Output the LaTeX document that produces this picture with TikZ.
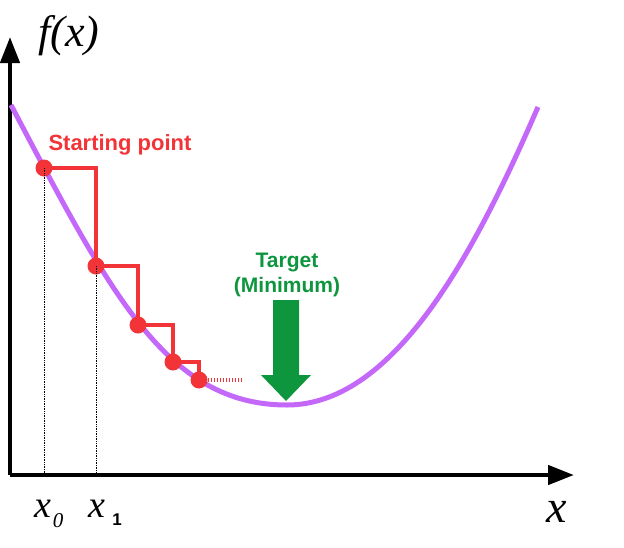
\documentclass[tikz,border=0pt]{standalone}
\usepackage{fontspec}
\setmainfont{Liberation Serif}
\newfontfamily\labelfont{Liberation Sans}
\usepackage{tikz}
\usetikzlibrary{arrows.meta}
\definecolor{curvepurple}{RGB}{196,104,250}
\definecolor{stepred}{RGB}{242,52,56}
\definecolor{targetgreen}{RGB}{14,150,62}
\tikzset{
    axis/.style={line width=4.5pt,-{Triangle[length=26pt,width=19pt]}},
    curve/.style={curvepurple,line width=5pt},
    stepline/.style={stepred,line width=4pt},
    dot/.style={circle,fill=stepred,minimum size=17pt,inner sep=0pt},
    guide/.style={densely dotted,line width=0.7pt},
    redtext/.style={stepred,font=\labelfont\bfseries\fontsize{22}{24}\selectfont},
    greentext/.style={targetgreen,font=\labelfont\bfseries\fontsize{21}{25}\selectfont,align=center}
}

\begin{document}
\begin{tikzpicture}[x=1pt,y=-1pt]
\useasboundingbox (0,0) rectangle (624,547);

% Trục toạ độ
\coordinate (O) at (10,475);
\coordinate (ytip) at (10,37);
\coordinate (xtip) at (574,475);
\draw[axis] (O) -- (ytip);
\draw[axis] (O) -- (xtip);

% Hàm f(x)
\coordinate (cstart) at (11,105);
\coordinate (cmin) at (287,405);
\coordinate (cend) at (538,107);
\draw[curve] (cstart) .. controls (111,295) and (167,405) .. (cmin)
    .. controls (397,405) and (478,245) .. (cend);

% Các bước giảm dần
\node[dot] (P0) at (44,168) {};
\node[dot] (P1) at (96,266) {};
\node[dot] (P2) at (138,325) {};
\node[dot] (P3) at (173,362) {};
\node[dot] (P4) at (199,380) {};
\draw[stepline] (P0.center) -| (P1.center) (P1.center) -| (P2.center)
    (P2.center) -| (P3.center) (P3.center) -| (P4.center);
\coordinate (tail) at (243,380);
\draw[stepred,line width=3.5pt,dash pattern=on 1.5pt off 1.5pt] (P4.east) -- (tail);

% Đường gióng xuống trục x
\coordinate (X0) at (44,475);
\coordinate (X1) at (96,475);
\draw[guide] (P0.center) -- (X0);
\draw[guide] (P1.center) -- (X1);

% Mũi tên đích
\fill[targetgreen] (273,300) -- (299,300) -- (299,375) -- (311,375) -- (286,401)
    -- (261,375) -- (273,375) -- cycle;

% Chú thích
\node[redtext] (start) at (120,145) {Starting point};
\node[greentext] (target) at (287,275) {Target\\(Minimum)};
\node[font=\itshape\fontsize{44}{46}\selectfont] (fx) at (69,36) {f(x)};
\node[font=\itshape\fontsize{46}{48}\selectfont] (xl) at (557,512) {x};
\node[font=\itshape\fontsize{38}{40}\selectfont,anchor=base] (x0) at (43,517) {x};
\node[font=\itshape\fontsize{21}{22}\selectfont,anchor=base] (s0) at (58,527) {0};
\node[font=\itshape\fontsize{38}{40}\selectfont,anchor=base] (x1) at (97,517) {x};
\node[font=\labelfont\bfseries\fontsize{17}{18}\selectfont,anchor=base] (s1) at (117,525) {1};
\end{tikzpicture}
\end{document}
